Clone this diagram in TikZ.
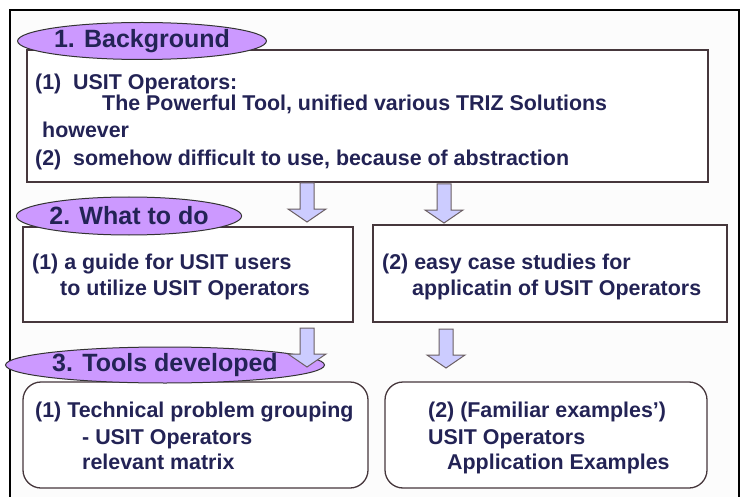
\documentclass[tikz,border=0pt]{standalone}
\usepackage{fontspec}
\setmainfont{Liberation Sans}
\usetikzlibrary{shapes.geometric,positioning}

\definecolor{tagfill}{RGB}{204,153,255}
\definecolor{arrfill}{RGB}{204,204,255}
\definecolor{edgecol}{RGB}{70,55,60}
\definecolor{inkblue}{RGB}{35,35,85}
\definecolor{paper}{RGB}{252,252,252}

\tikzset{
  box/.style={draw=edgecol, line width=1.3pt, fill=white, inner sep=0pt},
  roundbox/.style={box, rounded corners=18pt},
  tag/.style={ellipse, draw=black!80, line width=1pt, fill=tagfill, inner sep=0pt,
    text=inkblue, font=\fontsize{25}{25}\selectfont\bfseries},
  bodytext/.style={anchor=north west, inner sep=0pt, align=left, text=inkblue,
    font=\fontsize{21.4}{21}\selectfont\bfseries},
  blockarr/.style={draw=edgecol!80, line width=1pt, fill=arrfill, line join=miter}
}
\newcommand{\blockdown}[1]{%
  \draw[blockarr] (#1) ++(-7,0) -- ++(0,26) -- ++(-12,0) -- ++(19,13)
    -- ++(19,-13) -- ++(-12,0) -- ++(0,-26) -- cycle;}

\begin{document}
\begin{tikzpicture}[x=1pt,y=-1pt]
	%% page and frame
	\useasboundingbox (0,0) rectangle (741,497);
	\fill[white] (0,0) rectangle (741,497);
	\fill[paper] (10,10) rectangle (739,497);
	\draw[line width=1.8pt] (10,497) -- (10,10) -- (739,10) -- (739,497);
	%% 1. background
	\node[box, minimum width=681, minimum height=132] (bg) at (367.5,116) {};
	\node[bodytext] (bgtext) at (35,74) {(1)\ \ USIT Operators:\\
		\hspace*{67pt}The Powerful Tool, unified various TRIZ Solutions\\[6pt]
		\hspace*{7pt}however\\[7pt]
		(2)\ \ somehow difficult to use, because of abstraction};
	\node[tag, minimum width=245, minimum height=37] (bgtag) at (142,41) {1. Background};
	%% 2. what to do
	\node[box, minimum width=330, minimum height=95] (guide) at (188,274.5) {};
	\node[box, minimum width=354, minimum height=97] (cases) at (550,273.5) {};
	\node[bodytext] (guidetext) at (32,254) {(1) a guide for USIT users\\[5pt]
		\hspace*{28pt}to utilize USIT Operators};
	\node[bodytext] (casestext) at (382,254) {(2) easy case studies for\\[5pt]
		\hspace*{30pt}applicatin of USIT Operators};
	\node[tag, minimum width=225, minimum height=38] (dotag) at (129,216) {2. What to do};
	\blockdown{307,183}
	\blockdown{444,184}
	%% 3. tools developed
	\node[roundbox, minimum width=345, minimum height=106] (matrix) at (195.5,435) {};
	\node[roundbox, minimum width=322, minimum height=106] (examples) at (546,435) {};
	\node[bodytext] (matrixtext) at (35,402) {(1) Technical problem grouping\\[6pt]
		\hspace*{47pt}- USIT Operators\\[4pt]
		\hspace*{47pt}relevant matrix};
	\node[bodytext] (examplestext) at (428,402) {(2) (Familiar examples')\\[6pt]
		USIT Operators\\[4pt]
		\hspace*{19pt}Application Examples};
	\node[tag, minimum width=280, minimum height=36] (tooltag) at (165,365) {3. Tools developed};
	\blockdown{307,328}
	\blockdown{446,329}
\end{tikzpicture}
\end{document}
